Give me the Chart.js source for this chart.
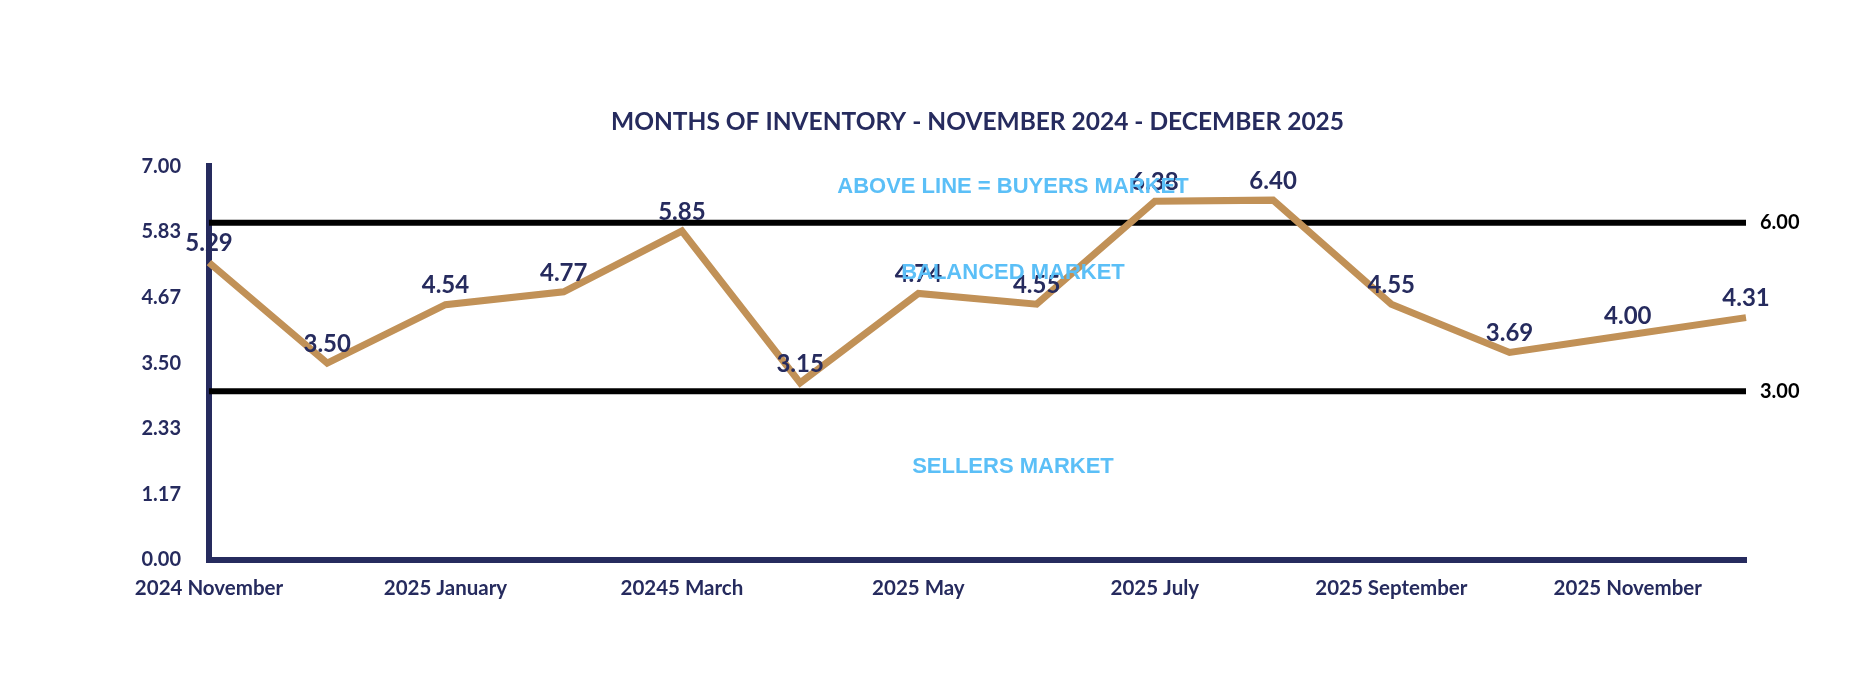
<!DOCTYPE html>
<html>
<head>
<meta charset="utf-8">
<script src="https://cdn.jsdelivr.net/npm/chart.js@4/dist/chart.umd.min.js"></script>
<style>
  html, body { margin: 0; padding: 0; background: #fff; }
  canvas { display: block; }
</style>
</head>
<body>
<canvas id="chart" width="1854" height="690"></canvas>
<script>
// months, Nov 2024 - Dec 2025 (every other one labelled, typo kept from source)
const months = [
  "2024 November", "2024 December", "2025 January", "2025 February", "20245 March",
  "2025 April", "2025 May", "2025 June", "2025 July", "2025 August",
  "2025 September", "2025 October", "2025 November", "2025 December"
];
const shownLabels = [0, 2, 4, 6, 8, 10, 12];
const inventory = [5.29, 3.50, 4.54, 4.77, 5.85, 3.15, 4.74, 4.55, 6.38, 6.40, 4.55, 3.69, 4.00, 4.31];
const buyersLine = months.map(() => 6);
const sellersLine = months.map(() => 3);
const yTicks = [0, 7 / 6, 14 / 6, 3.5, 28 / 6, 35 / 6, 7];

const zoneTexts = ["ABOVE LINE = BUYERS MARKET", "BALANCED MARKET", "SELLERS MARKET"];
const zoneValues = [6.63, 5.10, 1.65];

const NAVY = "#262b5e";
const TAN = "#c19157";
const SKY = "#5bbff7";
const FONT = "Lato, 'Liberation Sans', sans-serif";

const $ = (id) => document.getElementById(id);

// value labels above the tan line, zone captions, and the 6.00 / 3.00 tags
const overlay = {
  id: "overlay",
  afterDatasetsDraw(chart) {
    const { ctx, chartArea, scales: { x, y } } = chart;
    ctx.save();
    ctx.textAlign = "center";
    ctx.textBaseline = "middle";

    ctx.font = `bold 24px ${FONT}`;
    ctx.fillStyle = NAVY;
    chart.getDatasetMeta(0).data.forEach((pt, i) => {
      ctx.fillText(inventory[i].toFixed(2), pt.x, pt.y - 19);
    });

    ctx.font = `bold 22px 'Liberation Sans', Arial, sans-serif`;
    ctx.fillStyle = SKY;
    const cx = x.getPixelForValue(6.8);
    zoneTexts.forEach((t, i) => ctx.fillText(t, cx, y.getPixelForValue(zoneValues[i])));

    ctx.font = `bold 20px ${FONT}`;
    ctx.fillStyle = "#000";
    ctx.textAlign = "left";
    [6, 3].forEach(v => ctx.fillText(v.toFixed(2), chartArea.right + 14, y.getPixelForValue(v)));
    ctx.restore();
  }
};

new Chart($("chart"), {
  type: "line",
  data: {
    labels: months,
    datasets: [
      { data: inventory, borderColor: TAN, borderWidth: 7, borderJoinStyle: "miter", pointRadius: 0, tension: 0 },
      { data: buyersLine, borderColor: "#000", borderWidth: 6, pointRadius: 0 },
      { data: sellersLine, borderColor: "#000", borderWidth: 6, pointRadius: 0 }
    ]
  },
  options: {
    responsive: false,
    animation: false,
    devicePixelRatio: 1,
    layout: { padding: { left: 0, right: 108, top: 0, bottom: 0 } },
    plugins: {
      legend: { display: false },
      tooltip: { enabled: false },
      title: {
        display: true,
        fullSize: false,
        text: "MONTHS OF INVENTORY - NOVEMBER 2024 - DECEMBER 2025",
        color: NAVY,
        font: { family: FONT, size: 24.5, weight: "bold", lineHeight: 1.2 },
        padding: { top: 107, bottom: 30 }
      }
    },
    scales: {
      x: {
        offset: false,
        grid: { display: false, drawTicks: false },
        border: { display: true, color: NAVY, width: 6 },
        ticks: {
          autoSkip: false,
          maxRotation: 0,
          padding: 16,
          color: NAVY,
          font: { family: FONT, size: 20.5, weight: "bold" },
          callback: (v, i) => shownLabels.includes(i) ? months[i] : ""
        },
        afterFit: (s) => { s.height = 130; }
      },
      y: {
        min: 0,
        max: 7,
        grid: { display: false, drawTicks: false },
        border: { display: true, color: NAVY, width: 6 },
        afterBuildTicks: (s) => { s.ticks = yTicks.map(v => ({ value: v })); },
        ticks: {
          padding: 28,
          color: NAVY,
          font: { family: FONT, size: 20, weight: "bold" },
          callback: (v) => Number(v).toFixed(2)
        },
        afterFit: (s) => { s.width = 209; }
      }
    }
  },
  plugins: [overlay]
});
</script>
</body>
</html>
